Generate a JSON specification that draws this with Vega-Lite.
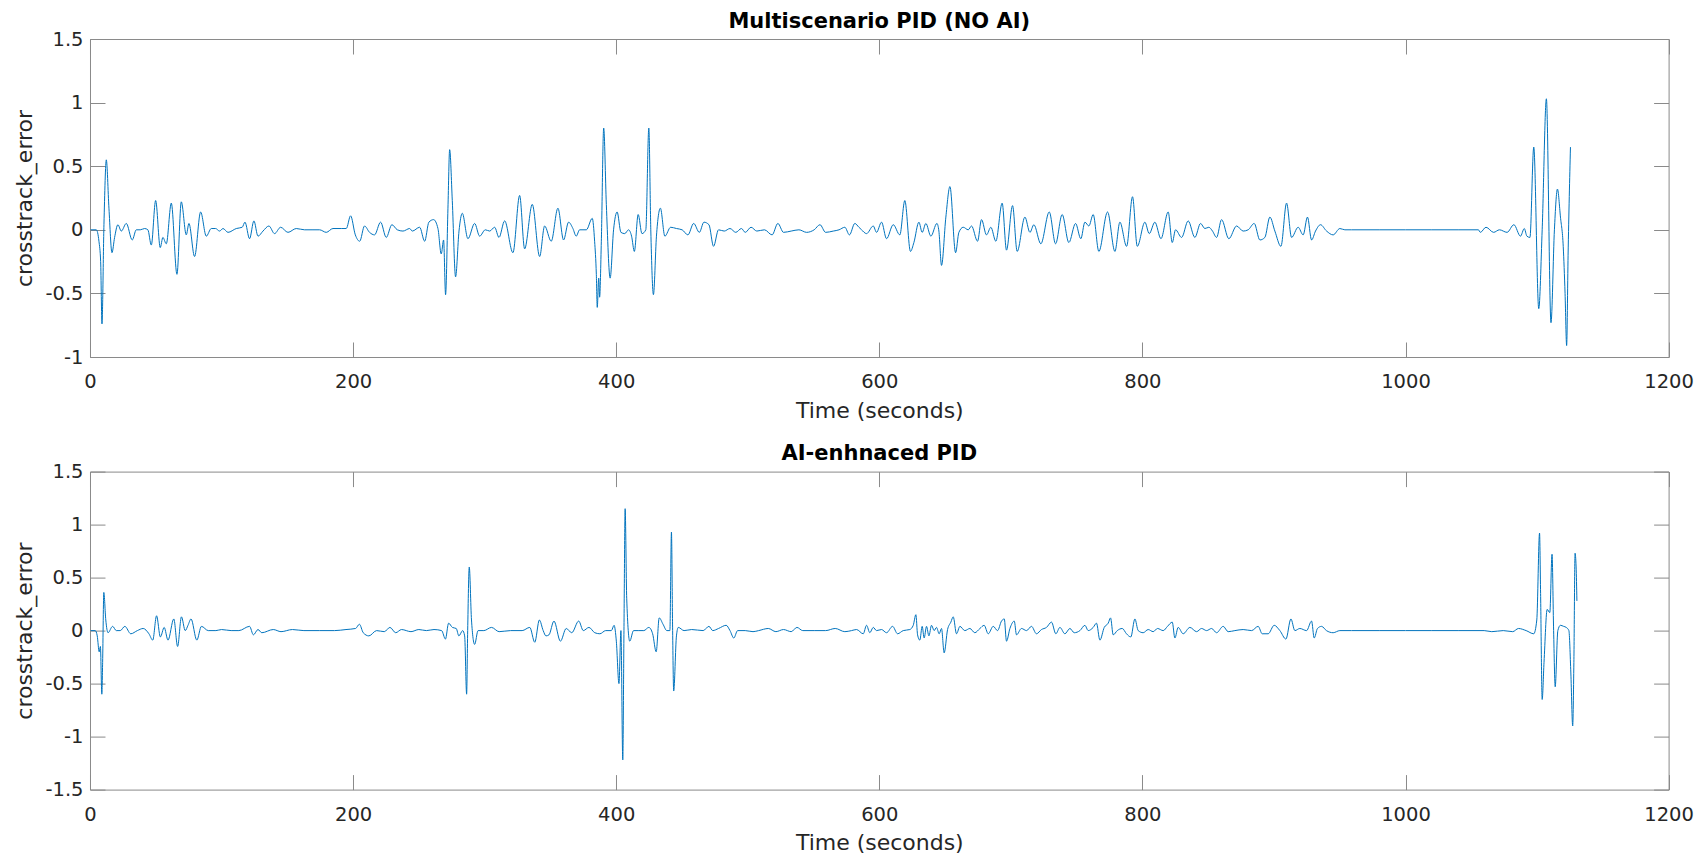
{
  "$schema": "https://vega.github.io/schema/vega-lite/v6.json",
  "background": "white",
  "padding": {"left": 13, "top": 10, "right": 5, "bottom": 0},
  "spacing": 20.6,
  "datasets": {
    "noai": [
      {"t":0.5,"v":0},{"t":4.8,"v":0},{"t":6.8,"v":-0.09},{"t":8.1,"v":-0.25},{"t":9.1,"v":-0.74},{"t":10.6,"v":0.04},{"t":12.4,"v":0.55},{"t":14.4,"v":0.17},{"t":16.7,"v":-0.18},{"t":18.7,"v":-0.06},{"t":21.2,"v":0.04},{"t":23.8,"v":-0.01},{"t":27.6,"v":0.05},{"t":32.1,"v":-0.08},{"t":35.2,"v":0},{"t":38.2,"v":0},{"t":41.5,"v":0.01},{"t":44,"v":0},{"t":46.6,"v":-0.12},{"t":49.9,"v":0.23},{"t":53.4,"v":-0.14},{"t":55.4,"v":-0.06},{"t":58,"v":-0.11},{"t":61.8,"v":0.21},{"t":66.1,"v":-0.35},{"t":69.4,"v":0.22},{"t":73.2,"v":-0.04},{"t":75.2,"v":0.05},{"t":79.5,"v":-0.21},{"t":84.1,"v":0.14},{"t":88.4,"v":-0.05},{"t":92.2,"v":0.01},{"t":95.5,"v":0.01},{"t":98.5,"v":-0.01},{"t":101.1,"v":0.01},{"t":104.9,"v":-0.02},{"t":111.2,"v":0.01},{"t":115.7,"v":0.02},{"t":117.8,"v":0.06},{"t":121.3,"v":-0.07},{"t":124.6,"v":0.07},{"t":127.7,"v":-0.05},{"t":131.5,"v":-0.01},{"t":136,"v":0.03},{"t":140.3,"v":-0.03},{"t":144.9,"v":0.02},{"t":150.5,"v":-0.02},{"t":156.8,"v":0.01},{"t":163.1,"v":0},{"t":169.5,"v":0},{"t":174.5,"v":0},{"t":179.6,"v":-0.02},{"t":184.7,"v":0.01},{"t":191,"v":0.01},{"t":194.8,"v":0.01},{"t":198.1,"v":0.11},{"t":201.7,"v":-0.04},{"t":205,"v":-0.09},{"t":208.7,"v":0.03},{"t":212.5,"v":-0.02},{"t":216.3,"v":-0.04},{"t":220.9,"v":0.06},{"t":225.2,"v":-0.06},{"t":229.5,"v":0.04},{"t":233.6,"v":0},{"t":237.9,"v":-0.01},{"t":243,"v":0.01},{"t":245,"v":-0.01},{"t":250.6,"v":0.02},{"t":254.4,"v":-0.09},{"t":257.6,"v":0.06},{"t":261.2,"v":0.08},{"t":264.5,"v":0.01},{"t":267,"v":-0.19},{"t":268.8,"v":-0.08},{"t":270.3,"v":-0.51},{"t":272.1,"v":0.17},{"t":273.4,"v":0.63},{"t":275.4,"v":0.23},{"t":277.9,"v":-0.37},{"t":280.5,"v":-0.01},{"t":283,"v":0.13},{"t":287.3,"v":-0.07},{"t":292.4,"v":0.05},{"t":296.2,"v":-0.05},{"t":300.5,"v":0},{"t":303.8,"v":-0.01},{"t":307.6,"v":0.02},{"t":310.9,"v":-0.06},{"t":315.2,"v":0.07},{"t":321.5,"v":-0.18},{"t":326.6,"v":0.27},{"t":330.4,"v":-0.15},{"t":336.2,"v":0.2},{"t":341.8,"v":-0.21},{"t":345.6,"v":0.03},{"t":350.6,"v":-0.09},{"t":355.7,"v":0.17},{"t":360,"v":-0.08},{"t":363.8,"v":0.06},{"t":367.1,"v":0.01},{"t":369.6,"v":-0.05},{"t":372.2,"v":0},{"t":377.3,"v":0},{"t":381.8,"v":0.09},{"t":383.6,"v":-0.09},{"t":384.9,"v":-0.35},{"t":385.6,"v":-0.61},{"t":386.7,"v":-0.38},{"t":387.4,"v":-0.53},{"t":388.7,"v":-0.09},{"t":390.5,"v":0.8},{"t":392.5,"v":0.2},{"t":395.4,"v":-0.38},{"t":398,"v":0},{"t":400.7,"v":0.14},{"t":403.6,"v":-0.02},{"t":406.5,"v":-0.03},{"t":409.4,"v":0},{"t":411.7,"v":-0.05},{"t":413.8,"v":-0.17},{"t":416.7,"v":0.12},{"t":419.6,"v":-0.03},{"t":422.5,"v":0},{"t":424.8,"v":0.8},{"t":426.3,"v":0},{"t":428.3,"v":-0.51},{"t":430.6,"v":-0.05},{"t":433.6,"v":0.17},{"t":437,"v":-0.05},{"t":441.4,"v":0.02},{"t":445.8,"v":0.01},{"t":450.1,"v":0},{"t":454.5,"v":-0.04},{"t":458.9,"v":0.05},{"t":463.2,"v":-0.02},{"t":466.7,"v":0.06},{"t":470.5,"v":0.04},{"t":474,"v":-0.13},{"t":477.8,"v":0},{"t":482.1,"v":-0.01},{"t":486.5,"v":0.01},{"t":490.9,"v":-0.02},{"t":495.2,"v":0.01},{"t":498.1,"v":-0.02},{"t":502.5,"v":0.02},{"t":506.9,"v":-0.01},{"t":512.7,"v":0},{"t":518.5,"v":-0.04},{"t":522.9,"v":0.05},{"t":527.2,"v":-0.02},{"t":533,"v":-0.01},{"t":538.9,"v":0},{"t":544.7,"v":-0.02},{"t":550.5,"v":0},{"t":554.9,"v":0.04},{"t":559.2,"v":-0.02},{"t":565,"v":-0.01},{"t":569.4,"v":0},{"t":573.8,"v":0.02},{"t":577.3,"v":-0.04},
      {"t":581.4,"v":0.05},{"t":584.5,"v":0.02},{"t":586.5,"v":0},{"t":590.3,"v":-0.03},{"t":595.4,"v":0.03},{"t":597.9,"v":-0.02},{"t":601.7,"v":0.06},{"t":605.5,"v":-0.07},{"t":610.6,"v":0.04},{"t":615.6,"v":-0.04},{"t":619.4,"v":0.23},{"t":623.7,"v":-0.17},{"t":626.3,"v":-0.1},{"t":630.1,"v":0.06},{"t":632.6,"v":-0.02},{"t":635.4,"v":0.05},{"t":639.2,"v":-0.05},{"t":643.8,"v":0.05},{"t":645.3,"v":-0.01},{"t":647.3,"v":-0.28},{"t":650.6,"v":0.1},{"t":653.7,"v":0.34},{"t":658,"v":-0.18},{"t":660.5,"v":-0.02},{"t":663.8,"v":0.02},{"t":667.6,"v":0},{"t":670.1,"v":0.03},{"t":674.7,"v":-0.09},{"t":677.7,"v":0.08},{"t":681.5,"v":-0.04},{"t":684.8,"v":0.02},{"t":688.6,"v":-0.09},{"t":693.4,"v":0.21},{"t":696.7,"v":-0.16},{"t":701.3,"v":0.19},{"t":704.8,"v":-0.17},{"t":710.7,"v":0.1},{"t":714.5,"v":-0.02},{"t":717.5,"v":0.04},{"t":722.8,"v":-0.11},{"t":729.2,"v":0.14},{"t":734,"v":-0.11},{"t":739,"v":0.12},{"t":744.1,"v":-0.1},{"t":749.2,"v":0.05},{"t":753.2,"v":-0.07},{"t":756.3,"v":0.06},{"t":759.3,"v":0.03},{"t":762.6,"v":0.12},{"t":766.9,"v":-0.17},{"t":773.5,"v":0.14},{"t":779.1,"v":-0.17},{"t":782.9,"v":0.06},{"t":788,"v":-0.13},{"t":792.5,"v":0.26},{"t":796.1,"v":-0.13},{"t":801.9,"v":0.06},{"t":805.2,"v":-0.03},{"t":809.5,"v":0.06},{"t":814.1,"v":-0.07},{"t":819.6,"v":0.14},{"t":822.7,"v":-0.1},{"t":825.2,"v":0},{"t":829.8,"v":-0.06},{"t":834.8,"v":0.07},{"t":839.9,"v":-0.06},{"t":844.2,"v":0.05},{"t":847.5,"v":0.01},{"t":850.5,"v":0.02},{"t":853.3,"v":-0.01},{"t":856.4,"v":-0.06},{"t":860.2,"v":0.08},{"t":865.7,"v":-0.07},{"t":871.6,"v":0.03},{"t":876.6,"v":-0.01},{"t":880.4,"v":0},{"t":885,"v":0.05},{"t":889.3,"v":-0.08},{"t":893.1,"v":-0.06},{"t":896.9,"v":0.1},{"t":900.7,"v":-0.01},{"t":905.3,"v":-0.13},{"t":909.6,"v":0.21},{"t":913.4,"v":-0.06},{"t":918.4,"v":0.02},{"t":922.2,"v":-0.04},{"t":925.5,"v":0.1},{"t":928.6,"v":-0.08},{"t":931.6,"v":-0.01},{"t":935.4,"v":0.04},{"t":940,"v":-0.01},{"t":945,"v":-0.04},{"t":950.1,"v":0.01},{"t":953.9,"v":0},{"t":959,"v":0},
      {"t":980,"v":0},{"t":1000,"v":0},{"t":1020,"v":0},{"t":1040,"v":0},{"t":1055.4,"v":0},{"t":1056.9,"v":-0.02},{"t":1061.2,"v":0.02},{"t":1067,"v":-0.02},{"t":1071.4,"v":0},{"t":1077.2,"v":-0.02},{"t":1082.4,"v":0.04},{"t":1087.4,"v":-0.05},{"t":1090.3,"v":0.01},{"t":1092.3,"v":-0.05},{"t":1094.6,"v":-0.06},{"t":1097.5,"v":0.65},{"t":1101.3,"v":-0.62},{"t":1103.9,"v":0},{"t":1107.1,"v":1.03},{"t":1110.6,"v":-0.73},{"t":1113.2,"v":0},{"t":1115.5,"v":0.32},{"t":1117.8,"v":0.1},{"t":1119.9,"v":-0.13},{"t":1121.3,"v":-0.5},{"t":1122.5,"v":-0.91},{"t":1123.6,"v":-0.2},{"t":1125.4,"v":0.65}
    ],
    "ai": [
      {"t":0.5,"v":0},{"t":4,"v":0},{"t":5.5,"v":-0.05},{"t":7,"v":-0.2},{"t":7.9,"v":-0.15},{"t":9,"v":-0.6},{"t":9.6,"v":-0.3},{"t":10.5,"v":0.36},{"t":12,"v":0.1},{"t":13.7,"v":-0.02},{"t":17.2,"v":0.04},{"t":20,"v":0},{"t":23,"v":0},{"t":26.5,"v":0.04},{"t":31,"v":-0.03},{"t":36,"v":0},{"t":40.4,"v":0.02},{"t":44.8,"v":-0.03},{"t":47.7,"v":-0.09},{"t":50.6,"v":0.14},{"t":53.5,"v":-0.06},{"t":56.4,"v":0.03},{"t":59.3,"v":-0.09},{"t":63.7,"v":0.11},{"t":66.6,"v":-0.15},{"t":69.5,"v":0.13},{"t":72.4,"v":0},{"t":74.5,"v":0.05},{"t":76.8,"v":0.11},{"t":81.2,"v":-0.09},{"t":84.7,"v":0.04},{"t":89.9,"v":0},{"t":95.7,"v":0},{"t":100,"v":0.01},{"t":107.3,"v":0},{"t":113.2,"v":0},{"t":121.3,"v":0.04},{"t":124.2,"v":-0.04},{"t":127.7,"v":0.01},{"t":130.6,"v":-0.02},{"t":139.3,"v":0.01},{"t":145.2,"v":-0.01},{"t":153.9,"v":0.01},{"t":162.6,"v":0},{"t":174.3,"v":0},{"t":185.9,"v":0},{"t":194.6,"v":0.01},{"t":201.9,"v":0.02},{"t":204.8,"v":0.06},{"t":207.7,"v":-0.02},{"t":212,"v":-0.05},{"t":217.9,"v":0},{"t":223.7,"v":-0.01},{"t":228,"v":0.03},{"t":232.4,"v":-0.02},{"t":236.8,"v":0.01},{"t":244,"v":-0.01},{"t":250,"v":0.01},{"t":255.7,"v":0},{"t":261.5,"v":0.01},{"t":267.3,"v":0},{"t":270.2,"v":-0.08},{"t":272.6,"v":0.07},{"t":275.5,"v":0.03},{"t":278.4,"v":0.02},{"t":280.4,"v":-0.05},{"t":283.3,"v":0},{"t":284.8,"v":-0.05},{"t":286.3,"v":-0.6},{"t":287.1,"v":0},{"t":288.3,"v":0.6},{"t":290,"v":0.1},{"t":292.4,"v":-0.13},{"t":295,"v":0},{"t":299.4,"v":0},{"t":305.2,"v":0.03},{"t":311,"v":-0.01},{"t":319.7,"v":0},{"t":328.5,"v":0},{"t":334.3,"v":0.03},{"t":338.1,"v":-0.11},{"t":341.6,"v":0.1},{"t":344.5,"v":0},{"t":346.6,"v":-0.05},{"t":348.9,"v":-0.04},{"t":352.7,"v":0.09},{"t":357.6,"v":-0.1},{"t":362,"v":0.02},{"t":366.2,"v":-0.02},{"t":371.5,"v":0.09},{"t":375,"v":0},{"t":379.3,"v":0.03},{"t":383.7,"v":-0.02},{"t":387.6,"v":-0.03},{"t":392,"v":0},{"t":396.3,"v":0},{"t":398.4,"v":0.05},{"t":400.1,"v":-0.1},{"t":402.1,"v":-0.5},{"t":403.6,"v":0},{"t":405,"v":-1.22},{"t":405.9,"v":0},{"t":406.8,"v":1.15},{"t":408,"v":0.3},{"t":410.3,"v":-0.1},{"t":413.2,"v":0},{"t":416.7,"v":0},{"t":421,"v":0},{"t":424.8,"v":0.03},{"t":427.7,"v":-0.03},{"t":430.4,"v":-0.2},{"t":432.7,"v":0.12},{"t":435.6,"v":0.06},{"t":438.5,"v":0},{"t":440.8,"v":0},{"t":442,"v":0.93},{"t":442.9,"v":0},{"t":443.7,"v":-0.57},{"t":445.8,"v":-0.05},{"t":447.2,"v":0.03},{"t":451.6,"v":0},{"t":457.4,"v":0.01},{"t":466.1,"v":0},{"t":470.5,"v":0.04},{"t":473.4,"v":0},{"t":477.8,"v":0.02},{"t":483.6,"v":0.05},{"t":486.5,"v":0},{"t":489.4,"v":-0.07},{"t":492.3,"v":0},{"t":498.1,"v":0},{"t":504,"v":-0.01},{"t":508.3,"v":0},{"t":515.6,"v":0.02},{"t":521.4,"v":-0.01},{"t":527.2,"v":0.01},{"t":533,"v":-0.01},{"t":537.4,"v":0.03},{"t":541.8,"v":0},{"t":550.5,"v":0},{"t":559.2,"v":0},{"t":566.5,"v":0.02},{"t":573.8,"v":-0.01},
      {"t":578.9,"v":0},{"t":582.7,"v":0.01},{"t":587.8,"v":-0.03},{"t":590.3,"v":0.05},{"t":592.8,"v":-0.02},{"t":595.4,"v":0.03},{"t":597.9,"v":0},{"t":601.7,"v":0.01},{"t":605.5,"v":-0.02},{"t":610.1,"v":0.04},{"t":613.9,"v":-0.03},{"t":618.2,"v":0},{"t":623.2,"v":0.01},{"t":625.8,"v":0.05},{"t":627.8,"v":0.15},{"t":629.1,"v":-0.04},{"t":630.8,"v":-0.09},{"t":632.6,"v":0.04},{"t":634.1,"v":-0.07},{"t":635.9,"v":0.04},{"t":637.7,"v":-0.05},{"t":639.7,"v":0.05},{"t":641.7,"v":0},{"t":643.5,"v":0.03},{"t":645.5,"v":-0.03},{"t":647.3,"v":0.02},{"t":649.3,"v":-0.21},{"t":651.9,"v":0.01},{"t":654.4,"v":0.08},{"t":656.2,"v":0.13},{"t":658.7,"v":-0.03},{"t":661.3,"v":0.04},{"t":665,"v":0},{"t":668.9,"v":0.02},{"t":672.6,"v":-0.02},{"t":676.5,"v":0.02},{"t":679.7,"v":0.05},{"t":682.8,"v":-0.03},{"t":686.6,"v":0.04},{"t":689.9,"v":0},{"t":692.9,"v":0.09},{"t":695,"v":0.11},{"t":696.7,"v":-0.1},{"t":699.3,"v":0.02},{"t":702.6,"v":0.09},{"t":704.3,"v":-0.04},{"t":708.1,"v":0.02},{"t":711.9,"v":0},{"t":715.7,"v":0.04},{"t":719.5,"v":-0.03},{"t":723.3,"v":0.01},{"t":727.1,"v":0.03},{"t":730.9,"v":0.08},{"t":734.2,"v":-0.03},{"t":737.3,"v":0.03},{"t":741.1,"v":-0.03},{"t":744.9,"v":0.02},{"t":748.2,"v":-0.02},{"t":752.5,"v":0},{"t":756.3,"v":0.05},{"t":758.8,"v":0},{"t":762.6,"v":0.03},{"t":765.1,"v":0.07},{"t":767.7,"v":-0.09},{"t":771,"v":0.03},{"t":774,"v":0.07},{"t":775.8,"v":0.12},{"t":777.8,"v":-0.04},{"t":780.9,"v":0},{"t":784.7,"v":0.02},{"t":787.9,"v":-0.03},{"t":791.2,"v":-0.06},{"t":794.3,"v":0.11},{"t":796.8,"v":0},{"t":800.6,"v":-0.02},{"t":804.4,"v":0.01},{"t":808.2,"v":-0.01},{"t":811.5,"v":0.02},{"t":815.8,"v":0},{"t":819.1,"v":0.04},{"t":822.7,"v":0.08},{"t":824.7,"v":-0.07},{"t":827.2,"v":0.03},{"t":831,"v":-0.03},{"t":836.1,"v":0.03},{"t":841.2,"v":-0.01},{"t":845,"v":0.02},{"t":848.8,"v":0},{"t":852.6,"v":0.02},{"t":856.4,"v":-0.02},{"t":861.4,"v":0.04},{"t":865.2,"v":-0.01},{"t":870.3,"v":0},{"t":876.6,"v":0.01},{"t":883,"v":0},{"t":888,"v":0.04},{"t":891.1,"v":-0.03},{"t":895.6,"v":-0.03},{"t":900.2,"v":0.05},{"t":904.5,"v":0},{"t":909.1,"v":-0.08},{"t":912.9,"v":0.11},{"t":915.9,"v":0},{"t":919.7,"v":0.02},{"t":924.8,"v":0},{"t":928.6,"v":0.09},{"t":930.6,"v":-0.07},{"t":933.1,"v":0.02},{"t":936.2,"v":0.04},{"t":939.9,"v":0},{"t":945,"v":-0.02},{"t":950.1,"v":0},{"t":959,"v":0},
      {"t":980,"v":0},{"t":1000,"v":0},{"t":1020,"v":0},{"t":1040,"v":0},{"t":1059.8,"v":0},{"t":1065.6,"v":-0.01},{"t":1074.3,"v":0},{"t":1081.5,"v":-0.01},{"t":1085.9,"v":0.02},{"t":1091.7,"v":0},{"t":1097.5,"v":-0.03},{"t":1099.8,"v":0.1},{"t":1101.9,"v":0.92},{"t":1102.7,"v":0.35},{"t":1103.9,"v":-0.65},{"t":1105.3,"v":-0.3},{"t":1107.7,"v":0.2},{"t":1109.7,"v":0.17},{"t":1111.4,"v":0.72},{"t":1112.6,"v":0},{"t":1113.8,"v":-0.53},{"t":1115.8,"v":0},{"t":1117.8,"v":0.05},{"t":1120.2,"v":0.04},{"t":1122.2,"v":0.03},{"t":1124.2,"v":0},{"t":1125.7,"v":-0.4},{"t":1127.1,"v":-0.9},{"t":1128,"v":-0.3},{"t":1128.9,"v":0.73},{"t":1129.7,"v":0.6},{"t":1130.3,"v":0.28}
    ]
  },
  "vconcat": [
    {
      "title": {"text": "Multiscenario PID (NO AI)"},
      "width": 1578.6,
      "height": 318,
      "data": {"name": "noai"},
      "layer": [
        {
          "mark": {"type": "line", "color": "#0072BD", "strokeWidth": 1, "interpolate": "monotone"},
          "encoding": {
            "x": {"field": "t", "type": "quantitative", "scale": {"domain": [0, 1200], "nice": false, "zero": false}, "axis": {"orient": "bottom", "title": "Time (seconds)", "values": [0, 200, 400, 600, 800, 1000, 1200]}},
            "y": {"field": "v", "type": "quantitative", "scale": {"domain": [-1, 1.5], "nice": false, "zero": false}, "axis": {"orient": "left", "title": "crosstrack_error", "values": [-1, -0.5, 0, 0.5, 1, 1.5]}}
          }
        },
        {
          "mark": {"type": "line", "opacity": 0},
          "encoding": {
            "x": {"field": "t", "type": "quantitative", "axis": {"orient": "top", "labels": false, "title": null, "values": [0, 200, 400, 600, 800, 1000, 1200]}},
            "y": {"field": "v", "type": "quantitative", "axis": {"orient": "right", "labels": false, "title": null, "values": [-1, -0.5, 0, 0.5, 1, 1.5]}}
          }
        }
      ],
      "resolve": {"axis": {"x": "independent", "y": "independent"}}
    },
    {
      "title": {"text": "AI-enhnaced PID"},
      "width": 1578.6,
      "height": 318,
      "data": {"name": "ai"},
      "layer": [
        {
          "mark": {"type": "line", "color": "#0072BD", "strokeWidth": 1, "interpolate": "monotone"},
          "encoding": {
            "x": {"field": "t", "type": "quantitative", "scale": {"domain": [0, 1200], "nice": false, "zero": false}, "axis": {"orient": "bottom", "title": "Time (seconds)", "values": [0, 200, 400, 600, 800, 1000, 1200]}},
            "y": {"field": "v", "type": "quantitative", "scale": {"domain": [-1.5, 1.5], "nice": false, "zero": false}, "axis": {"orient": "left", "title": "crosstrack_error", "values": [-1.5, -1, -0.5, 0, 0.5, 1, 1.5]}}
          }
        },
        {
          "mark": {"type": "line", "opacity": 0},
          "encoding": {
            "x": {"field": "t", "type": "quantitative", "axis": {"orient": "top", "labels": false, "title": null, "values": [0, 200, 400, 600, 800, 1000, 1200]}},
            "y": {"field": "v", "type": "quantitative", "axis": {"orient": "right", "labels": false, "title": null, "values": [-1.5, -1, -0.5, 0, 0.5, 1, 1.5]}}
          }
        }
      ],
      "resolve": {"axis": {"x": "independent", "y": "independent"}}
    }
  ],
  "config": {
    "view": {"stroke": null},
    "axis": {
      "labelFont": "DejaVu Sans",
      "labelFontSize": 19.5,
      "labelColor": "#262626",
      "titleFont": "DejaVu Sans",
      "titleFontSize": 22,
      "titleFontWeight": "normal",
      "titleColor": "#262626",
      "domainColor": "#8a8a8a",
      "domainWidth": 1,
      "tickColor": "#8a8a8a",
      "tickWidth": 1,
      "tickSize": -15,
      "grid": false,
      "labelFlush": false,
      "labelOverlap": false,
      "labelExpr": "'' + datum.value"
    },
    "axisX": {"labelPadding": 30.8, "titlePadding": 9},
    "axisY": {"labelPadding": 22, "titlePadding": 8.5},
    "title": {"font": "DejaVu Sans", "fontSize": 21, "fontWeight": "bold", "color": "#000000", "anchor": "middle", "frame": "group", "offset": -2.5}
  }
}
